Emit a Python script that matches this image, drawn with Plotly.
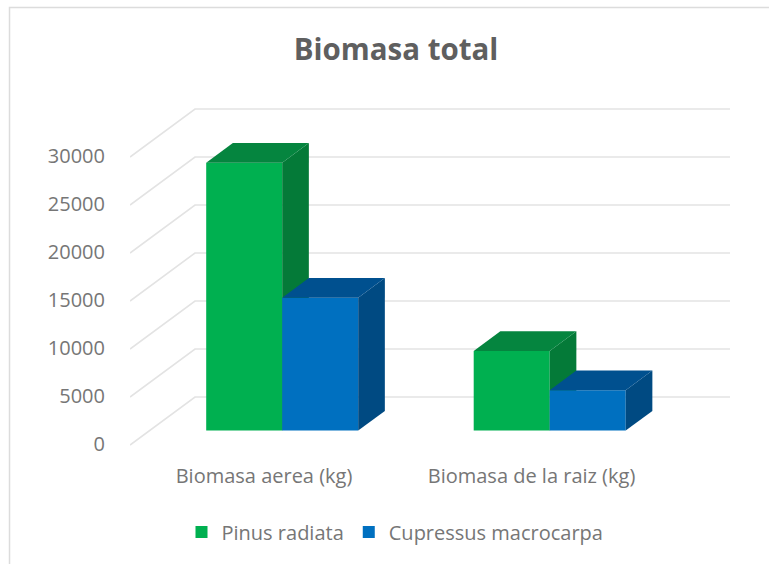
import plotly.graph_objects as go

categories = ["Biomasa aerea (kg)", "Biomasa de la raiz (kg)"]
pinus_radiata = [27900, 8300]
cupressus_macrocarpa = [13850, 4200]
y_ticks = [0, 5000, 10000, 15000, 20000, 25000, 30000]

TITLE = "Biomasa total"
FONT = "Open Sans"
TEXT = "#767676"
GRID = "#e3e3e3"

W, H = 769, 564
PL, PR, PT, PB = 130, 730, 100, 452   # plot box in pixels
PX_PER_CAT = 267.5
PX_PER_UNIT = 0.0096
ZERO_PX = 444                        # pixel of y tick 0
CAT0_PX = 264                        # pixel of front centre of first category

XR = [(PL - CAT0_PX) / PX_PER_CAT, (PR - CAT0_PX) / PX_PER_CAT]
YR = [(ZERO_PX - PB) / PX_PER_UNIT, (ZERO_PX - PT) / PX_PER_UNIT]

FLOOR_DX = 65 / PX_PER_CAT           # floor depth along x
FLOOR_DY = 48 / PX_PER_UNIT          # floor depth along y
GRID_SHIFT = -1 / PX_PER_UNIT        # grid starts slightly below tick labels
BAR_START = 0.28                     # where bars begin in the floor depth
BAR_DEPTH = 0.41
BAR_W = 76 / PX_PER_CAT


def poly(xs, ys, color, axes):
    return go.Scatter(x=xs, y=ys, mode="lines", fill="toself", fillcolor=color,
                      line=dict(width=0, color=color), hoverinfo="skip",
                      showlegend=False, xaxis=axes[0], yaxis=axes[1])


fig = go.Figure()

# wall and floor grid lines
gx, gy = [], []
for v in y_ticks:
    y0 = v + GRID_SHIFT
    gx += [XR[0], XR[0] + FLOOR_DX, XR[1], None]
    gy += [y0, y0 + FLOOR_DY, y0 + FLOOR_DY, None]
fig.add_trace(go.Scatter(x=gx, y=gy, mode="lines", line=dict(color=GRID, width=1.6),
                         hoverinfo="skip", showlegend=False))

base = GRID_SHIFT + 0.30 * FLOOR_DY
dx = BAR_DEPTH * FLOOR_DX
dy = BAR_DEPTH * FLOOR_DY
shift = BAR_START * FLOOR_DX

series = [
    ("Pinus radiata", pinus_radiata, -0.5, "#00B050", "#047A38", "#05853F", ("x2", "y2")),
    ("Cupressus macrocarpa", cupressus_macrocarpa, 0.5, "#0070C0", "#004A82", "#00508F", ("x3", "y3")),
]
for name, vals, off, front, side, top, axes in series:
    xc = [i + shift + off * BAR_W for i in range(len(vals))]
    fig.add_trace(go.Bar(x=xc, y=vals, base=[base] * len(vals), width=BAR_W, name=name,
                         marker=dict(color=front, line=dict(width=0)),
                         xaxis=axes[0], yaxis=axes[1]))
    for c, v in zip(xc, vals):
        l, r = c - BAR_W / 2, c + BAR_W / 2
        t = base + v
        fig.add_trace(poly([r, r + dx, r + dx, r, r], [base, base + dy, t + dy, t, base], side, axes))
        fig.add_trace(poly([l, r, r + dx, l + dx, l], [t, t, t + dy, t + dy, t], top, axes))

fig.update_layout(
    width=W, height=H, autosize=False,
    margin=dict(l=PL, r=W - PR, t=PT, b=H - PB, pad=0),
    paper_bgcolor="white", plot_bgcolor="white",
    font=dict(family=FONT, color=TEXT, size=20),
    barmode="overlay",
    title=dict(text="<b>" + TITLE + "</b>", x=396 / W, xanchor="center", xref="container",
               y=1 - 50 / H, yanchor="middle", yref="container",
               font=dict(family=FONT, size=29.5, color="#5f5f5f")),
    xaxis=dict(range=XR, tickmode="array", tickvals=[0, 1], ticktext=categories,
               showgrid=False, zeroline=False, showline=False,
               ticks="outside", ticklen=6, tickcolor="rgba(0,0,0,0)"),
    yaxis=dict(range=YR, tickmode="array", tickvals=y_ticks, ticktext=[str(v) for v in y_ticks],
               showgrid=False, zeroline=False, showline=False,
               ticks="outside", ticklen=20, tickcolor="rgba(0,0,0,0)"),
    xaxis2=dict(range=XR, overlaying="x", visible=False, anchor="y2"),
    yaxis2=dict(range=YR, overlaying="y", visible=False, anchor="x2"),
    xaxis3=dict(range=XR, overlaying="x", visible=False, anchor="y3"),
    yaxis3=dict(range=YR, overlaying="y", visible=False, anchor="x3"),
    legend=dict(orientation="h", x=395 / W, xref="container", xanchor="center",
                y=1 - 532 / H, yref="container", yanchor="middle",
                font=dict(family=FONT, size=20, color=TEXT), bgcolor="rgba(0,0,0,0)"),
    shapes=[dict(type="path", xref="paper", yref="paper",
                 path="M {:.4f},{:.4f} L {:.4f},{:.4f} L {:.4f},{:.4f}".format(
                     (9.5 - PL) / (PR - PL), (PB - H) / (PB - PT),
                     (9.5 - PL) / (PR - PL), (PB - 7.5) / (PB - PT),
                     (W - PL) / (PR - PL), (PB - 7.5) / (PB - PT)),
                 line=dict(color="#dcdcdc", width=1.5), layer="below")],
)

fig.write_html("out.html", config={"displayModeBar": False},
               post_script="document.body.style.margin='0';")
